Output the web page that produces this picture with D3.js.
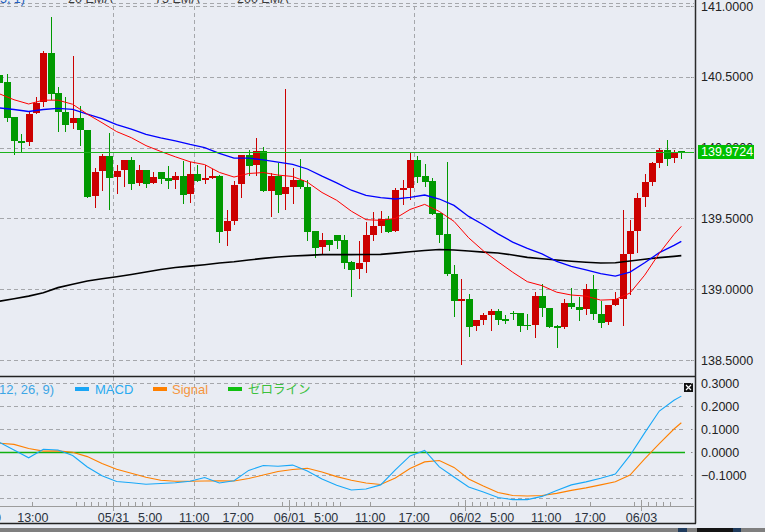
<!DOCTYPE html>
<html><head><meta charset="utf-8">
<script src="https://cdn.jsdelivr.net/npm/d3@7/dist/d3.min.js"></script>
<style>
html,body{margin:0;padding:0;background:#e9ecf3;}
svg{display:block;font-family:"Liberation Sans",Arial,sans-serif;}
</style></head><body>
<svg id="c" width="765" height="532"></svg>
<script>
// ---------- DATA ----------
const firstHour = -16; // hours relative to 05/31 0:00, hourly candles
const candleOpen  = [140.510,140.465,140.218,140.049,140.037,140.242,140.319,140.671,140.389,140.254,140.171,140.206,140.127,139.657,139.833,139.944,
 139.791,139.843,139.915,139.749,139.845,139.749,139.831,139.784,139.770,139.796,139.671,139.817,139.768,139.782,139.796,139.411,139.481,139.742,139.951,139.880,
 139.979,139.697,139.796,139.669,139.725,139.768,139.725,139.408,139.298,139.345,139.380,139.345,139.192,139.143,139.192,139.380,139.444,139.498,139.411,139.704,
 139.713,139.915,139.796,139.761,139.537,139.387,139.110,138.920,138.930,138.739,138.782,138.817,138.845,138.789,138.830,138.833,138.747,138.746,138.951,138.864,
 138.742,138.735,138.906,138.875,138.859,139.000,138.824,138.770,138.887,138.930,139.246,139.411,139.650,139.756,139.889,139.986,139.925,139.975];
const candleHigh  = [140.520,140.519,140.218,140.099,140.260,140.359,140.683,140.923,140.430,140.354,140.648,140.296,140.127,139.854,139.955,140.106,
 139.880,139.915,139.937,139.880,139.845,139.831,139.831,139.868,139.826,139.904,139.899,139.875,139.880,139.852,139.803,139.561,139.761,139.951,139.986,140.065,
 140.007,139.819,139.894,140.413,139.854,139.923,139.768,139.408,139.396,139.345,139.380,139.380,139.197,139.338,139.474,139.542,139.551,139.514,139.716,139.768,
 139.960,139.940,139.885,139.787,139.537,139.901,139.169,139.075,138.965,138.782,138.833,138.859,138.859,138.817,138.845,138.833,138.824,138.977,139.040,138.864,
 138.746,138.930,139.005,138.946,139.035,139.099,138.918,138.887,138.977,139.556,139.486,139.681,139.815,139.901,139.998,140.056,139.986,139.978];
const candleLow   = [140.440,140.190,139.958,139.967,140.021,140.242,140.296,140.343,140.115,140.120,140.136,140.021,139.650,139.580,139.704,139.563,
 139.678,139.727,139.706,139.735,139.720,139.749,139.749,139.713,139.713,139.608,139.615,139.763,139.749,139.782,139.333,139.310,139.462,139.650,139.803,139.803,
 139.690,139.514,139.544,139.563,139.608,139.713,139.350,139.227,139.256,139.275,139.289,139.148,138.953,139.080,139.122,139.350,139.404,139.404,139.411,139.599,
 139.639,139.756,139.727,139.533,139.333,139.099,138.812,138.470,138.671,138.711,138.754,138.711,138.754,138.761,138.789,138.704,138.718,138.664,138.812,138.735,
 138.594,138.728,138.868,138.782,138.824,138.789,138.735,138.754,138.887,138.746,138.963,139.263,139.585,139.739,139.861,139.880,139.901,139.930];
const candleClose = [140.458,140.211,140.044,140.030,140.237,140.317,140.671,140.382,140.249,140.162,140.206,140.125,139.650,139.831,139.944,139.784,
 139.838,139.915,139.742,139.845,139.742,139.789,139.780,139.765,139.796,139.664,139.817,139.763,139.782,139.796,139.404,139.479,139.739,139.951,139.873,139.979,
 139.690,139.796,139.662,139.725,139.768,139.720,139.404,139.291,139.345,139.310,139.340,139.185,139.134,139.188,139.380,139.444,139.498,139.404,139.704,139.713,
 139.915,139.791,139.756,139.533,139.385,139.106,138.918,138.930,138.735,138.782,138.817,138.845,138.782,138.775,138.828,138.742,138.743,138.951,138.864,138.735,
 138.727,138.906,138.875,138.852,139.000,138.822,138.763,138.887,138.930,139.246,139.411,139.646,139.756,139.889,139.986,139.920,139.965,139.9724];
const currentPrice = 139.9724;

const lineHours = [-16,-14,-12,-10,-8,-6,-4,-2,0,2,4,6,8,10,12,14,16,18,20,22,24,26,28,30,32,34,36,38,40,42,44,46,48,50,52,54,56,58,60,62,64,66,68,70,72,74,76,77];
const ema20  = [140.380,140.338,140.308,140.335,140.335,140.306,140.236,140.176,140.113,140.070,140.014,139.973,139.935,139.900,139.880,139.825,139.792,139.817,139.824,139.806,
 139.796,139.756,139.683,139.628,139.551,139.491,139.486,139.500,139.563,139.599,139.549,139.479,139.363,139.271,139.194,139.120,139.053,139.025,138.979,138.959,
 138.951,138.923,138.927,138.973,139.099,139.254,139.387,139.444];
const ema75  = [140.280,140.269,140.255,140.269,140.277,140.270,140.236,140.204,140.163,140.130,140.094,140.068,140.047,140.022,140.000,139.959,139.925,139.926,139.913,139.898,
 139.882,139.849,139.798,139.751,139.699,139.663,139.646,139.637,139.649,139.665,139.637,139.592,139.514,139.455,139.391,139.333,139.289,139.249,139.197,139.162,
 139.137,139.110,139.092,139.121,139.187,139.258,139.310,139.338];
const ema200 = [138.915,138.932,138.951,138.975,139.011,139.035,139.058,139.074,139.088,139.104,139.121,139.139,139.153,139.163,139.173,139.185,139.194,139.206,139.218,139.227,
 139.235,139.239,139.244,139.244,139.244,139.245,139.246,139.255,139.264,139.273,139.280,139.277,139.270,139.262,139.256,139.242,139.225,139.215,139.206,139.197,
 139.190,139.185,139.187,139.199,139.211,139.223,139.232,139.237];
const macdLine   = [0.042,0.009,-0.025,0.012,0.009,-0.015,-0.065,-0.103,-0.128,-0.134,-0.140,-0.137,-0.134,-0.127,-0.111,-0.135,-0.125,-0.080,-0.059,-0.062,
 -0.057,-0.083,-0.117,-0.145,-0.165,-0.161,-0.143,-0.078,-0.017,0.007,-0.065,-0.109,-0.152,-0.174,-0.198,-0.207,-0.207,-0.193,-0.167,-0.143,
 -0.130,-0.114,-0.096,-0.015,0.083,0.178,0.225,0.243];
const signalLine = [0.038,0.033,0.015,0.004,0.005,-0.001,-0.020,-0.050,-0.075,-0.092,-0.110,-0.123,-0.127,-0.127,-0.126,-0.125,-0.126,-0.115,-0.100,-0.085,
 -0.076,-0.071,-0.087,-0.107,-0.123,-0.135,-0.141,-0.113,-0.072,-0.043,-0.037,-0.067,-0.117,-0.148,-0.176,-0.189,-0.191,-0.189,-0.180,-0.167,
 -0.156,-0.143,-0.129,-0.100,-0.030,0.036,0.100,0.127];

const priceTicks = [138.5,139.0,139.5,140.0,140.5,141.0];
const macdTicks = [-0.1,0.0,0.1,0.2,0.3];
const macdGrid = [-0.2,-0.1,0.1,0.2,0.3];
const timeTickHours = [-17,-11,0,5,11,17,24,29,35,41,48,53,59,65,72];
const timeTickLabels = ["7:00","13:00","05/31","5:00","11:00","17:00","06/01","5:00","11:00","17:00","06/02","5:00","11:00","17:00","06/03"];
const minorTickHours = [-5,-4,-3,-2,-1,1,2,3,4,23,25,26,27,28,29,30,31,47,49,50,51,52,53,54,55,71,73,74,75,76];
const vGridHours = [0,11,41];
const legendTop = ["(5, 1)","20 EMA","75 EMA","200 EMA"];
const macdLegend = ["MACD","Signal","ゼロライン"];

// ---------- SCALES ----------
const svg = d3.select("#c");
const x = d3.scaleLinear().domain([0,72]).range([113,641]);
const y = d3.scaleLinear().domain([138.5,141]).range([360,6]);
const ym = d3.scaleLinear().domain([-0.1,0.3]).range([475,383]);
const plotR = 694;
const UP="#cc0000", DN="#009900";

svg.append("rect").attr("width",765).attr("height",532).attr("fill","#e9ecf3");
const defs = svg.append("defs");
defs.append("clipPath").attr("id","cp").append("rect").attr("x",0).attr("y",0).attr("width",plotR).attr("height",376);
defs.append("clipPath").attr("id","cm").append("rect").attr("x",0).attr("y",377).attr("width",plotR).attr("height",128);

const dash = "4,3", gridC = "#a5a7ab";
// price grid
svg.append("g").selectAll("line").data(priceTicks).join("line")
  .attr("x1",0).attr("x2",plotR).attr("y1",d=>Math.round(y(d))+0.5).attr("y2",d=>Math.round(y(d))+0.5)
  .attr("stroke",gridC).attr("stroke-dasharray",dash);
svg.append("line").attr("x1",0).attr("x2",plotR).attr("y1",3.5).attr("y2",3.5).attr("stroke",gridC).attr("stroke-dasharray",dash);
// macd grid
svg.append("g").selectAll("line").data(macdGrid).join("line")
  .attr("x1",0).attr("x2",plotR-10).attr("y1",d=>Math.round(ym(d))+0.5).attr("y2",d=>Math.round(ym(d))+0.5)
  .attr("stroke",gridC).attr("stroke-dasharray",dash);
// vertical grid
svg.append("g").selectAll("line").data(vGridHours).join("line")
  .attr("x1",d=>Math.round(x(d))+0.5).attr("x2",d=>Math.round(x(d))+0.5).attr("y1",6).attr("y2",505)
  .attr("stroke",gridC).attr("stroke-dasharray",dash);

// top legend (clipped at top)
const lgX = [25,68,155,237];
svg.append("g").selectAll("text").data(legendTop).join("text")
  .attr("x",(d,i)=>lgX[i]).attr("y",2.5).attr("text-anchor",(d,i)=>i===0?"end":"start")
  .attr("font-size",12.5).attr("fill",(d,i)=>i===0?"#2060c0":"#3a3a3a").text(d=>d);

// ---------- CANDLES ----------
const candles = candleOpen.map((o,i)=>({h:firstHour+i,o,hi:candleHigh[i],lo:candleLow[i],c:candleClose[i]}));
const gp = svg.append("g").attr("clip-path","url(#cp)");
const cx = d=>Math.round(x(d.h+0.5));
gp.selectAll("line.w").data(candles).join("line").attr("class","w")
  .attr("x1",d=>cx(d)+0.5).attr("x2",d=>cx(d)+0.5)
  .attr("y1",d=>Math.round(y(d.hi))).attr("y2",d=>Math.round(y(d.lo))+1)
  .attr("stroke",d=>d.c>=d.o?UP:DN).attr("stroke-width",1);
gp.selectAll("rect.b").data(candles).join("rect").attr("class","b")
  .attr("x",d=>cx(d)-3).attr("width",7)
  .attr("y",d=>Math.round(y(Math.max(d.o,d.c))))
  .attr("height",d=>Math.max(1,Math.round(y(Math.min(d.o,d.c)))-Math.round(y(Math.max(d.o,d.c)))))
  .attr("fill",d=>d.c>=d.o?UP:DN);

// EMA lines
const mkLine = (arr,sc)=>d3.line().x((d,i)=>x(lineHours[i]+0.5)).y(d=>sc(d))(arr);
gp.append("path").attr("d",mkLine(ema200,y)).attr("fill","none").attr("stroke","#000").attr("stroke-width",1.6);
gp.append("path").attr("d",mkLine(ema75,y)).attr("fill","none").attr("stroke","#0000ff").attr("stroke-width",1.3);
gp.append("path").attr("d",mkLine(ema20,y)).attr("fill","none").attr("stroke","#ff0000").attr("stroke-width",1);

// current price line
gp.append("line").attr("x1",0).attr("x2",plotR).attr("y1",Math.round(y(currentPrice))+0.5).attr("y2",Math.round(y(currentPrice))+0.5)
  .attr("stroke","#1db21d").attr("stroke-width",1.2);

// ---------- MACD ----------
const gm = svg.append("g").attr("clip-path","url(#cm)");
gm.append("line").attr("x1",0).attr("x2",685).attr("y1",ym(0)+0.5).attr("y2",ym(0)+0.5).attr("stroke","#12b012").attr("stroke-width",1.5);
gm.append("path").attr("d",mkLine(signalLine,ym)).attr("fill","none").attr("stroke","#ff8000").attr("stroke-width",1.1);
gm.append("path").attr("d",mkLine(macdLine,ym)).attr("fill","none").attr("stroke","#18a8f8").attr("stroke-width",1.1);

// MACD legend
const lg = svg.append("g").attr("font-size",13);
lg.append("text").attr("x",54).attr("y",394).attr("text-anchor","end").attr("fill","#3ca6e6").text("MACD(12, 26, 9)");
const lgCol = ["#1aa6f6","#ff8000","#10c010"], lgTxtCol=["#2aaaf0","#f59540","#3cc03c"];
const swX = [75,153,228], txX=[95,172,248];
macdLegend.forEach((t,i)=>{
  lg.append("rect").attr("x",swX[i]).attr("y",387).attr("width",14).attr("height",4).attr("fill",lgCol[i]);
  lg.append("text").attr("x",txX[i]).attr("y",394).attr("fill",lgTxtCol[i])
    .attr("font-family",i===2?"'Noto Sans CJK JP',sans-serif":null).attr("font-size",i===2?12.5:13).text(t);
});
// close icon
svg.append("rect").attr("x",684.5).attr("y",383.5).attr("width",8).attr("height",8).attr("fill","#111").attr("stroke","#111");
svg.append("path").attr("d","M686,385L691,390M691,385L686,390").attr("stroke","#fff").attr("stroke-width",1.2);

// ---------- AXES ----------
const pAx = svg.append("g").attr("transform",`translate(${plotR},0)`)
  .call(d3.axisRight(y).tickValues(priceTicks).tickSize(0).tickPadding(7).tickFormat(d3.format(".4f")));
pAx.select(".domain").remove();
pAx.selectAll("text").attr("font-size",12.5).attr("fill","#222").attr("font-family","'Liberation Sans',Arial,sans-serif");

const mAx = svg.append("g").attr("transform",`translate(${plotR},0)`)
  .call(d3.axisRight(ym).tickValues(macdTicks).tickSize(0).tickPadding(7)
    .tickFormat(d=>(d<0?"\u2212":"")+Math.abs(d).toFixed(4)));
mAx.select(".domain").remove();
mAx.selectAll("text").attr("font-size",12.5).attr("fill","#222").attr("font-family","'Liberation Sans',Arial,sans-serif");

// tick dots on right edge
svg.append("g").selectAll("rect").data(priceTicks.map(y).concat([-0.2,-0.1,0,0.1,0.2,0.3].map(ym)))
  .join("rect").attr("x",691).attr("y",d=>Math.round(d)).attr("width",1.5).attr("height",1).attr("fill","#888");

// current price box
svg.append("rect").attr("x",698).attr("y",Math.round(y(currentPrice))-7).attr("width",56).attr("height",14).attr("fill","#00c000");
svg.append("text").attr("x",701).attr("y",y(currentPrice)).attr("dy","0.35em").attr("font-size",12.5).attr("fill","#fff").text(currentPrice.toFixed(4));

// time axis
const tAx = svg.append("g").attr("transform","translate(0,506)")
  .call(d3.axisBottom(x).tickValues(timeTickHours).tickSize(0).tickPadding(7).tickFormat((d,i)=>timeTickLabels[i]));
tAx.select(".domain").remove();
tAx.selectAll("text").attr("font-size",12.5).attr("fill","#2b3340").attr("font-family","'Liberation Sans',Arial,sans-serif");
svg.append("line").attr("x1",0).attr("x2",plotR).attr("y1",506.5).attr("y2",506.5).attr("stroke","#9c9c9c");
svg.append("g").selectAll("line").data(minorTickHours.concat(timeTickHours)).join("line")
  .attr("x1",d=>Math.round(x(d))+0.5).attr("x2",d=>Math.round(x(d))+0.5)
  .attr("y1",d=>(d%24===0)?500:502).attr("y2",d=>(d%24===0)?511:506).attr("stroke","#9c9c9c");

// frame
svg.append("line").attr("x1",0).attr("x2",696).attr("y1",376.5).attr("y2",376.5).attr("stroke","#222").attr("stroke-width",1.3);
svg.append("line").attr("x1",695.5).attr("x2",695.5).attr("y1",0).attr("y2",523.5).attr("stroke","#2a2a2a").attr("stroke-width",1.5);
svg.append("line").attr("x1",0).attr("x2",696).attr("y1",523.5).attr("y2",523.5).attr("stroke","#222").attr("stroke-width",1.3);

// bottom strip
svg.append("rect").attr("x",0).attr("y",528).attr("width",765).attr("height",4).attr("fill","#7f7f7f");
svg.append("rect").attr("x",678).attr("y",528).attr("width",9).attr("height",4).attr("fill","#1f3b5c");
svg.append("rect").attr("x",697).attr("y",528).attr("width",36).attr("height",4).attr("fill","#141414");
svg.append("rect").attr("x",733).attr("y",528).attr("width",8).attr("height",4).attr("fill","#1f3b5c");
</script>
</body></html>
